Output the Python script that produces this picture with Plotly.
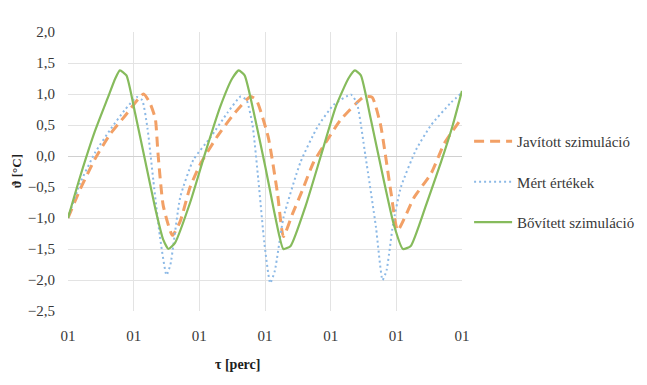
import plotly.graph_objects as go

# ---- data (x in tick-interval units, y in °C) ----
tick_vals = [0, 1, 2, 3, 4, 5, 6]
tick_text = ["01", "01", "01", "01", "01", "01", "01"]
y_ticks = [-2.5, -2.0, -1.5, -1.0, -0.5, 0.0, 0.5, 1.0, 1.5, 2.0]

javitott_t = [0.00, 0.18, 0.41, 0.64, 0.87, 1.15, 1.25, 1.33, 1.37, 1.45, 1.59, 1.71, 1.86, 2.02,
              2.27, 2.52, 2.78, 2.87, 3.05, 3.19, 3.28, 3.42, 3.57, 3.74, 3.95, 4.15, 4.50, 4.63,
              4.76, 4.92, 5.02, 5.27, 5.53, 5.73, 6.00]
javitott_v = [-1.00, -0.55, -0.05, 0.35, 0.65, 1.00, 0.85, 0.60, 0.05, -0.80, -1.28, -1.05, -0.50, -0.12,
              0.31, 0.67, 0.96, 0.90, 0.30, -0.60, -1.30, -0.93, -0.55, -0.10, 0.26, 0.58, 0.95, 0.95,
              0.50, -0.60, -1.20, -0.67, -0.28, 0.20, 0.62]

mert_t = [0.00, 0.18, 0.41, 0.64, 0.87, 1.05, 1.13, 1.21, 1.30, 1.40, 1.50, 1.56, 1.71, 1.91,
          2.17, 2.43, 2.63, 2.72, 2.81, 2.90, 2.99, 3.08, 3.15, 3.28, 3.54, 3.80, 4.05, 4.31,
          4.40, 4.53, 4.69, 4.79, 4.85, 4.95, 5.07, 5.30, 5.53, 5.83, 6.00]
mert_v = [-1.00, -0.45, 0.05, 0.42, 0.75, 0.95, 0.90, 0.45, -0.40, -1.30, -1.92, -1.75, -0.66, -0.06,
          0.30, 0.70, 0.96, 0.90, 0.50, -0.40, -1.40, -2.05, -1.85, -1.00, -0.10, 0.47, 0.83, 0.99,
          0.85, 0.00, -1.15, -2.00, -1.85, -1.10, -0.50, 0.10, 0.50, 0.86, 1.02]

bovitett_t = [0.00, 0.18, 0.41, 0.61, 0.72, 0.79, 0.89, 1.02, 1.18, 1.33, 1.45, 1.53, 1.63, 1.86,
              2.09, 2.32, 2.50, 2.60, 2.69, 2.85, 3.01, 3.16, 3.28, 3.39, 3.62, 3.85, 4.08, 4.27,
              4.37, 4.46, 4.61, 4.79, 4.96, 5.10, 5.22, 5.45, 5.68, 5.86, 6.00]
bovitett_v = [-1.00, -0.35, 0.40, 0.95, 1.25, 1.38, 1.30, 0.70, -0.10, -0.85, -1.35, -1.50, -1.40, -0.75,
              0.05, 0.80, 1.25, 1.38, 1.30, 0.60, -0.20, -1.00, -1.50, -1.45, -0.80, 0.00, 0.80, 1.25,
              1.38, 1.30, 0.60, -0.30, -1.10, -1.50, -1.45, -0.80, -0.10, 0.50, 1.05]

series = [
    ("Javított szimuláció", javitott_t, javitott_v, "#F2A066", "10px,6px", 3),
    ("Mért értékek", mert_t, mert_v, "#8CB9E6", "2px,3px", 2),
    ("Bővített szimuláció", bovitett_t, bovitett_v, "#86BB5C", "solid", 2.2),
]

fig = go.Figure()
for i, (name, t, v, col, dash, w) in enumerate(series):
    fig.add_trace(go.Scatter(
        x=t, y=v, name=name, mode="lines", legendgroup=f"g{i}",
        line=dict(color=col, dash=dash, width=w, shape="spline", smoothing=0.5),
    ))

serif = "Liberation Serif"
font = dict(family=serif, size=15, color="#383838")

fig.update_layout(
    width=647, height=385,
    margin=dict(l=60, r=193, t=24, b=82),
    paper_bgcolor="white", plot_bgcolor="white",
    separators=", ",
    font=font,
    showlegend=True,
    legend=dict(x=1.018, xanchor="left", y=0.667, yanchor="top", itemwidth=38,
                tracegroupgap=18, font=dict(family=serif, size=15, color="#383838"),
                bgcolor="rgba(0,0,0,0)"),
    xaxis=dict(range=[0, 6], tickvals=tick_vals, ticktext=tick_text,
               showgrid=True, gridcolor="#E3E3E3", zeroline=False, showline=False,
               ticks="", ticklabelstandoff=14, tickfont=font),
    yaxis=dict(range=[-2.5, 2.0], tickvals=y_ticks, tickformat=".1f",
               showgrid=True, gridcolor="#E3E3E3", zeroline=True, zerolinecolor="#D0D0D0",
               zerolinewidth=1, showline=False, ticks="", ticklabelstandoff=12, tickfont=font),
    annotations=[
        dict(text="<b>τ [perc]</b>", xref="paper", yref="paper", x=0.43, y=-0.19,
             xanchor="center", yanchor="middle", showarrow=False,
             font=dict(family=serif, size=14, color="#202020")),
        dict(text="<b>ϑ [°C]</b>", xref="paper", yref="paper", x=-0.13, y=0.5,
             xanchor="center", yanchor="middle", showarrow=False, textangle=-90,
             font=dict(family=serif, size=13, color="#202020")),
    ],
)

fig.write_html("out.html")
